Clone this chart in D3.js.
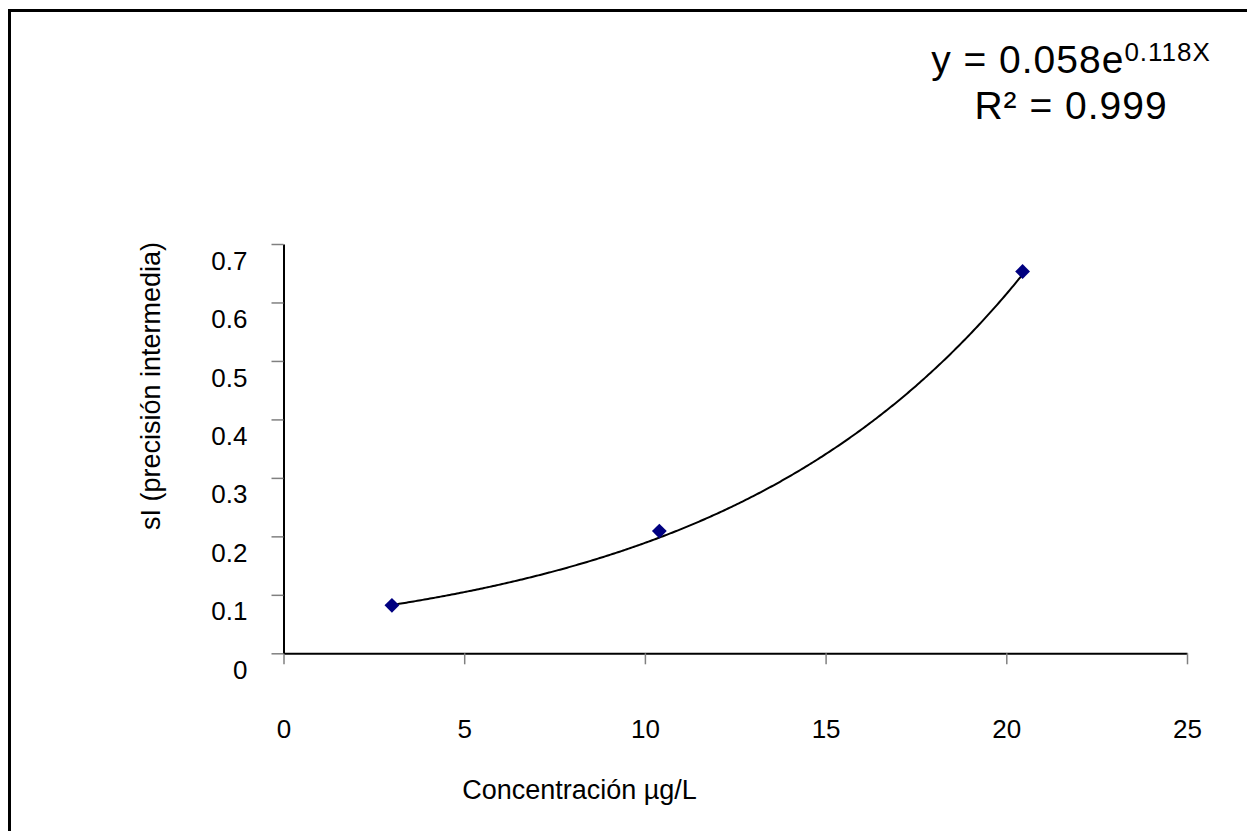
<!DOCTYPE html>
<html>
<head>
<meta charset="utf-8">
<script src="https://cdn.jsdelivr.net/npm/d3@7"></script>
<style>
body { margin: 0; background: #fff; }
svg text { font-family: "Liberation Sans", Arial, sans-serif; fill: #000; }
</style>
</head>
<body>
<svg width="1247" height="831"></svg>
<script>
// measured points
var concentracion = [3.0, 10.4, 20.45];
var sI = [0.082, 0.209, 0.653];

var xTicks = [0, 5, 10, 15, 20, 25];
var xTickLabels = ["0", "5", "10", "15", "20", "25"];
var yTicks = [0, 0.1, 0.2, 0.3, 0.4, 0.5, 0.6, 0.7];
var yTickLabels = ["0", "0.1", "0.2", "0.3", "0.4", "0.5", "0.6", "0.7"];

// exponential trendline shown on the chart
var fitA = 0.058;
var fitB = 0.118;

var width = 1247;
var height = 831;

var xScale = d3.scaleLinear().domain([0, 25]).range([283.5, 1187]);
var yScale = d3.scaleLinear().domain([0, 0.7]).range([653.3, 244]);

var svg = d3.select('svg');

// outer frame (only top/left edges visible in the picture)
svg.append('rect')
  .attr('x', 9.5)
  .attr('y', 10.5)
  .attr('width', 1400)
  .attr('height', 1000)
  .attr('fill', 'none')
  .attr('stroke', '#000')
  .attr('stroke-width', 3);

var axisBottom = d3.axisBottom(xScale)
  .tickValues(xTicks)
  .tickFormat(function (d, i) { return xTickLabels[i]; })
  .tickSize(11)
  .tickSizeOuter(0);

var axisLeft = d3.axisLeft(yScale)
  .tickValues(yTicks)
  .tickFormat(function (d, i) { return yTickLabels[i]; })
  .tickSize(12)
  .tickSizeOuter(0);

var gx = svg.append('g')
  .attr('transform', 'translate(0,' + yScale(0) + ')')
  .call(axisBottom);

var gy = svg.append('g')
  .attr('transform', 'translate(' + xScale(0) + ',0)')
  .call(axisLeft);

[gx, gy].forEach(function (g) {
  g.select('.domain').attr('stroke', '#000').attr('stroke-width', 2);
  g.selectAll('.tick line').attr('stroke', '#808080').attr('stroke-width', 1.5);
  g.selectAll('.tick text').style('font-size', '26px').attr('fill', '#000');
});

gx.selectAll('.tick text').attr('y', 66).attr('dy', '0.71em');
gy.selectAll('.tick text').attr('x', -36).attr('y', 16).attr('dy', '0.35em');

// trendline
var trend = d3.range(concentracion[0], concentracion[2] + 0.001, 0.05).map(function (x) {
  return [x, fitA * Math.exp(fitB * x)];
});

var line = d3.line()
  .x(function (d) { return xScale(d[0]); })
  .y(function (d) { return yScale(d[1]); });

svg.append('path')
  .datum(trend)
  .attr('d', line)
  .attr('fill', 'none')
  .attr('stroke', '#000')
  .attr('stroke-width', 2);

// points
var pts = concentracion.map(function (c, i) { return { x: c, y: sI[i] }; });

svg.selectAll('path.pt')
  .data(pts)
  .enter()
  .append('path')
  .attr('class', 'pt')
  .attr('d', d3.symbol().type(d3.symbolSquare).size(110))
  .attr('transform', function (d) {
    return 'translate(' + xScale(d.x) + ',' + yScale(d.y) + ') rotate(45)';
  })
  .attr('fill', '#000080');

// axis titles
svg.append('text')
  .attr('x', 579.5)
  .attr('y', 799)
  .style('text-anchor', 'middle')
  .style('font-size', '27px')
  .text('Concentración µg/L');

svg.append('text')
  .attr('transform', 'rotate(-90)')
  .attr('x', -386)
  .attr('y', 160)
  .style('text-anchor', 'middle')
  .style('font-size', '27px')
  .text('sI (precisión intermedia)');

// equation label
var eq = svg.append('text')
  .attr('x', 1071)
  .attr('y', 73)
  .style('text-anchor', 'middle')
  .style('font-size', '39px')
  .style('letter-spacing', '1px');
eq.append('tspan').text('y = 0.058e');
eq.append('tspan')
  .attr('dy', -12)
  .style('font-size', '26px')
  .text('0.118X');

svg.append('text')
  .attr('x', 1071)
  .attr('y', 119)
  .style('text-anchor', 'middle')
  .style('font-size', '39px')
  .style('letter-spacing', '1px')
  .text('R² = 0.999');
</script>
</body>
</html>
